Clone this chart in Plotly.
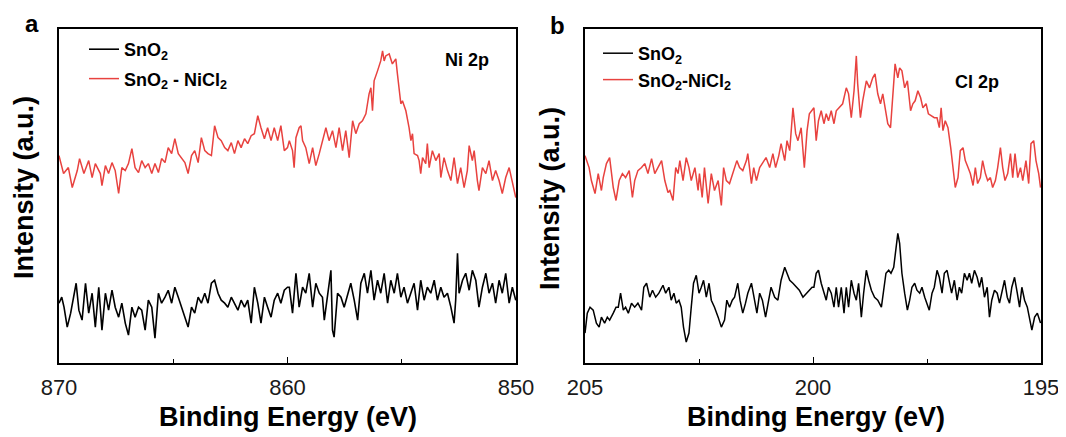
import plotly.graph_objects as go

# ---------------- data ----------------
ni_energy_red = [870.00, 869.80, 869.59, 869.42, 869.20, 869.10, 868.91, 868.70, 868.55, 868.41, 868.19, 868.12,
    867.97, 867.83, 867.68, 867.54, 867.39, 867.25, 867.10, 866.96, 866.81, 866.67, 866.52, 866.38, 866.23, 866.09,
    865.94, 865.80, 865.65, 865.51, 865.36, 865.22, 865.07, 864.93, 864.78, 864.64, 864.49, 864.35, 864.20, 864.06,
    863.91, 863.77, 863.62, 863.48, 863.33, 863.19, 863.04, 862.90, 862.75, 862.61, 862.46, 862.32, 862.17, 862.03,
    861.88, 861.74, 861.59, 861.45, 861.30, 861.16, 861.01, 860.87, 860.72, 860.58, 860.43, 860.29, 860.14, 860.00,
    859.92, 859.78, 859.71, 859.63, 859.49, 859.41, 859.34, 859.20, 859.05, 858.90,
    858.76, 858.61, 858.47, 858.32, 858.18, 858.03, 857.88, 857.74, 857.59, 857.45,
    857.30, 857.15, 857.01, 856.86, 856.72, 856.57, 856.43, 856.35, 856.28, 856.21,
    856.06, 855.92, 855.84, 855.77, 855.70, 855.55, 855.41, 855.26, 855.19, 855.11,
    855.04, 854.97, 854.82, 854.68, 854.60, 854.53, 854.46, 854.31, 854.24, 854.17,
    854.09, 853.95, 853.88, 853.80, 853.66, 853.51, 853.36, 853.29, 853.15, 853.00,
    852.85, 852.71, 852.56, 852.42, 852.27, 852.13, 852.05, 851.91, 851.83, 851.69,
    851.62, 851.47, 851.32, 851.18, 851.03, 850.89, 850.74, 850.60, 850.45, 850.30, 850.16, 850.01]
ni_snO2_nicl2 = [208, 190, 196, 176, 193, 205, 190, 203, 186, 200, 190, 178,
    198, 190, 201, 193, 170, 196, 193, 200, 215, 196, 191, 203, 196, 200, 190, 200, 191, 205, 201, 216, 210, 225,
    210, 206, 201, 190, 208, 213, 201, 226, 213, 210, 208, 238, 226, 223, 216, 213, 221, 210, 223, 216, 225, 220,
    228, 230, 248, 236, 225, 236, 223, 236, 223, 238, 213, 216,
    223, 213, 196, 226, 236, 238, 223, 216, 200, 216,
    198, 210, 223, 236, 223, 233, 216, 236, 213, 233,
    206, 243, 230, 240, 243, 250, 270, 276, 253, 283,
    293, 303, 313, 303, 308, 310, 300, 305, 290, 273,
    260, 263, 253, 236, 223, 230, 210, 208, 203, 190,
    206, 200, 220, 196, 213, 203, 210, 186, 206, 193,
    183, 206, 180, 196, 176, 193, 218, 203, 213, 183,
    173, 196, 190, 203, 183, 193, 183, 170, 186, 196, 180, 166]

ni_energy_black = [870.00, 869.88, 869.78, 869.64, 869.49, 869.35, 869.25, 869.13,
    868.99, 868.84, 868.70, 868.55, 868.41, 868.26, 868.12, 867.97, 867.83, 867.68, 867.54, 867.39, 867.25, 867.10,
    866.96, 866.81, 866.67, 866.52, 866.38, 866.23, 866.09, 865.94, 865.80, 865.65, 865.51, 865.36, 865.22, 865.07,
    864.93, 864.78, 864.64, 864.49, 864.35, 864.20, 864.06, 863.91, 863.77, 863.62, 863.48, 863.33, 863.19, 863.04,
    862.90, 862.75, 862.61, 862.46, 862.32, 862.17, 862.03, 861.88, 861.74, 861.59, 861.45, 861.30, 861.16, 861.01,
    860.87, 860.72, 860.58, 860.43, 860.29, 860.14, 860.00,
    859.92, 859.78, 859.63, 859.49, 859.34, 859.20, 859.05, 858.90, 858.76, 858.61, 858.47, 858.39, 858.25, 858.10,
    858.03, 857.96,
    857.81, 857.66, 857.52, 857.37, 857.23, 857.08, 856.93, 856.79, 856.64, 856.50, 856.35, 856.21, 856.06, 855.92,
    855.77, 855.62, 855.48, 855.33, 855.19, 855.04, 854.90, 854.75, 854.60, 854.46, 854.31, 854.17, 854.02, 853.88,
    853.73, 853.58, 853.44, 853.29, 853.15, 853.00, 852.85,
    852.71, 852.64, 852.56, 852.49,
    852.34, 852.20, 852.05, 851.91, 851.76, 851.62, 851.47, 851.32, 851.18, 851.03, 850.89, 850.74, 850.60, 850.45,
    850.30, 850.16, 850.01]
ni_snO2 = [60, 66, 56, 36, 50, 70, 80, 53,
    43, 80, 50, 70, 36, 76, 33, 70, 53, 73, 56, 46, 60, 40, 28, 56, 46, 56, 53, 33, 63, 56, 25, 70, 60, 66, 73, 60,
    76, 66, 56, 46, 36, 56, 50, 66, 60, 70, 60, 80, 83, 70, 63, 60, 56, 66, 60, 53, 63, 56, 63, 40, 76, 60, 40, 66,
    56, 46, 63, 70, 60, 73, 76,
    76, 50, 90, 56, 76, 70, 90, 56, 80, 70, 66, 43, 70, 93, 33, 26,
    70, 66, 56, 70, 80, 63, 43, 80, 90, 70, 93, 63, 83, 70, 90, 60, 83, 70, 90, 66, 76, 60, 70, 80, 53, 83, 63, 76,
    70, 83, 63, 76, 66, 70, 56,
    40, 63, 110, 70,
    83, 90, 73, 93, 83, 56, 76, 90, 70, 80, 60, 83, 70, 90, 60, 76, 63]

cl_energy_red = [205.00, 204.91, 204.86, 204.78, 204.71, 204.64, 204.60, 204.53, 204.46, 204.38,
    204.32, 204.25, 204.18, 204.11, 204.03, 203.96, 203.91, 203.84, 203.76, 203.69,
    203.62, 203.54, 203.47, 203.40, 203.32, 203.25, 203.18, 203.14, 203.07, 203.01,
    202.96, 202.92, 202.85, 202.78, 202.72, 202.67, 202.59, 202.52, 202.49, 202.43,
    202.38, 202.30, 202.23, 202.16, 202.08, 202.01, 201.96, 201.90, 201.83, 201.76,
    201.67, 201.61, 201.54, 201.46, 201.43, 201.35, 201.30, 201.24, 201.17, 201.10,
    201.03, 200.95, 200.88, 200.82, 200.75, 200.70, 200.62, 200.57, 200.51, 200.44,
    200.38, 200.33, 200.26, 200.19, 200.13, 200.08, 200.02,
    199.98, 199.93, 199.88, 199.82, 199.76, 199.71, 199.66, 199.60, 199.54, 199.49,
    199.42, 199.35, 199.27, 199.22, 199.16, 199.10, 199.05, 199.02, 198.96, 198.91,
    198.83, 198.76, 198.69, 198.64, 198.58, 198.52, 198.47, 198.42, 198.36, 198.30,
    198.25, 198.20, 198.14, 198.10, 198.05, 197.99, 197.93, 197.86, 197.81, 197.76,
    197.70, 197.64, 197.59, 197.52, 197.47, 197.41, 197.34, 197.28, 197.23, 197.19,
    197.15, 197.10, 197.04, 196.98, 196.93, 196.88, 196.82, 196.77, 196.71, 196.66,
    196.60, 196.55, 196.49, 196.44, 196.39, 196.33, 196.28, 196.22, 196.17, 196.11,
    196.06, 196.00, 195.95, 195.89, 195.84, 195.79, 195.73, 195.67, 195.62, 195.57,
    195.51, 195.45, 195.40, 195.33, 195.27, 195.22, 195.16, 195.11, 195.05, 195.01]
cl_snO2_nicl2 = [208, 196, 183, 170, 190, 173, 186, 200, 206, 176,
    163, 183, 190, 186, 193, 166, 183, 193, 196, 200,
    190, 205, 190, 196, 203, 183, 171, 173, 163, 196,
    190, 203, 183, 206, 196, 183, 196, 173, 190, 166,
    196, 160, 190, 173, 183, 158, 196, 183, 180, 190,
    203, 196, 193, 203, 210, 180, 196, 183, 196, 201,
    206, 196, 210, 196, 208, 220, 203, 223, 213, 256,
    230, 223, 236, 196, 233, 250, 253,
    256, 223, 243, 253, 240, 250, 243, 253, 240, 253,
    256, 260, 276, 270, 246, 273, 308, 280, 246, 263,
    283, 276, 286, 290, 270, 260, 270, 256, 240, 236,
    270, 300, 286, 296, 293, 276, 283, 253, 260, 263,
    273, 266, 256, 260, 250, 248, 246, 246, 236, 256,
    233, 243, 236, 216, 196, 176, 186, 213, 216, 203,
    196, 190, 178, 196, 180, 186, 203, 190, 183, 186,
    176, 183, 196, 216, 196, 183, 190, 210, 186, 210,
    186, 196, 183, 203, 180, 220, 223, 203, 190, 176]

cl_energy_black = [205.00, 204.95, 204.89, 204.82, 204.75, 204.69, 204.64, 204.57, 204.51, 204.46,
    204.38, 204.32, 204.27, 204.22, 204.16, 204.11, 204.05, 203.98, 203.91, 203.84,
    203.76, 203.71, 203.65, 203.58, 203.52, 203.45, 203.38, 203.29, 203.23, 203.16,
    203.11, 203.05, 203.00, 202.94, 202.89, 202.84, 202.78, 202.72, 202.67, 202.62,
    202.56, 202.50, 202.45, 202.40, 202.34, 202.28, 202.23, 202.16, 202.08, 202.01,
    201.94, 201.89, 201.83, 201.77, 201.72, 201.65, 201.60, 201.54, 201.48, 201.43,
    201.35, 201.28, 201.23, 201.17, 201.11, 201.04, 200.99, 200.92, 200.84, 200.77,
    200.70, 200.62, 200.57, 200.51, 200.44, 200.37, 200.30, 200.22, 200.15, 200.08,
    200.02,
    199.98, 199.93, 199.88, 199.82, 199.76, 199.71, 199.66, 199.60, 199.54, 199.49,
    199.44, 199.38, 199.32, 199.27, 199.22, 199.16, 199.10, 199.05, 199.00, 198.94,
    198.89, 198.83, 198.78, 198.72, 198.65, 198.58, 198.50, 198.45, 198.40, 198.34,
    198.29, 198.23, 198.18, 198.14, 198.10, 198.05, 197.99, 197.93, 197.88, 197.83,
    197.77, 197.72, 197.66, 197.61, 197.55, 197.50, 197.45, 197.39, 197.34, 197.28,
    197.23, 197.17, 197.12, 197.06, 197.01, 196.96, 196.90, 196.84, 196.79, 196.74,
    196.68, 196.62, 196.57, 196.52, 196.46, 196.40, 196.35, 196.30, 196.24, 196.18,
    196.13, 196.08, 196.02, 195.96, 195.91, 195.86, 195.80, 195.74, 195.69, 195.64,
    195.58, 195.52, 195.47, 195.42, 195.36, 195.30, 195.25, 195.20, 195.14, 195.08,
    195.01]
cl_snO2 = [30, 50, 56, 53, 40, 36, 46, 40, 46, 43,
    50, 56, 56, 70, 53, 56, 50, 60, 56, 60,
    53, 76, 80, 66, 73, 66, 70, 78, 70, 76,
    63, 70, 60, 63, 56, 36, 21, 30, 56, 80,
    88, 70, 76, 83, 66, 80, 63, 56, 46, 36,
    43, 63, 56, 63, 66, 80, 63, 50, 60, 70,
    80, 63, 50, 70, 63, 46, 60, 76, 66, 63,
    83, 96, 90, 83, 80, 76, 73, 66, 70, 73,
    76,
    76, 90, 93, 80, 70, 63, 76, 70, 56, 76,
    56, 76, 50, 76, 56, 83, 70, 63, 80, 46,
    70, 93, 83, 73, 66, 63, 56, 76, 90, 93,
    90, 96, 116, 130, 120, 90, 70, 53, 63, 76,
    80, 73, 70, 76, 66, 60, 53, 70, 76, 93,
    86, 70, 90, 93, 80, 70, 83, 63, 76, 70,
    90, 83, 90, 80, 93, 86, 76, 86, 66, 76,
    46, 63, 73, 70, 60, 70, 83, 66, 60, 76,
    86, 70, 56, 76, 63, 56, 43, 33, 46, 50,
    40]

panel_a_ticks = [870, 860, 850]
panel_b_ticks = [205, 200, 195]
names_a = ["SnO<sub>2</sub>", "SnO<sub>2</sub> - NiCl<sub>2</sub>"]
names_b = ["SnO<sub>2</sub>", "SnO<sub>2</sub>-NiCl<sub>2</sub>"]

# ---------------- figure ----------------
W, H = 1066, 437
OFF = 8  # page body margin offset of the figure in the window
BLACK = "#000000"
RED = "#E8423F"
FONT = "Liberation Sans, Arial, sans-serif"

def px(x):
    return (x - OFF) / W

def py(y):
    return 1 - (y - OFF) / H

fig = go.Figure()
fig.add_trace(go.Scatter(x=ni_energy_black, y=ni_snO2, mode="lines", name=names_a[0],
                         line=dict(color=BLACK, width=1.6), xaxis="x", yaxis="y",
                         legend="legend", legendgroup="a1"))
fig.add_trace(go.Scatter(x=ni_energy_red, y=ni_snO2_nicl2, mode="lines", name=names_a[1],
                         line=dict(color=RED, width=1.5), xaxis="x", yaxis="y",
                         legend="legend", legendgroup="a2"))
fig.add_trace(go.Scatter(x=cl_energy_black, y=cl_snO2, mode="lines", name=names_b[0],
                         line=dict(color=BLACK, width=1.5), xaxis="x2", yaxis="y2",
                         legend="legend2", legendgroup="b1"))
fig.add_trace(go.Scatter(x=cl_energy_red, y=cl_snO2_nicl2, mode="lines", name=names_b[1],
                         line=dict(color=RED, width=1.5), xaxis="x2", yaxis="y2",
                         legend="legend2", legendgroup="b2"))

xa_common = dict(showline=True, linecolor=BLACK, linewidth=1.6, mirror=True,
                 ticks="inside", ticklen=6, tickwidth=1.4, tickcolor=BLACK,
                 showgrid=False, zeroline=False, automargin=False,
                 tickfont=dict(family=FONT, size=22, color="#1a1a1a"),
                 ticklabelstandoff=4)
ya_common = dict(showline=True, linecolor=BLACK, linewidth=1.6, mirror=True,
                 ticks="", showticklabels=False, showgrid=False, zeroline=False,
                 automargin=False, range=[0, 335])

fig.update_layout(
    width=W, height=H, margin=dict(l=0, r=0, t=0, b=0, pad=0, autoexpand=False),
    paper_bgcolor="white", plot_bgcolor="white",
    xaxis=dict(domain=[px(59), px(516)], range=[870, 850], tickvals=panel_a_ticks,
               minor=dict(tickvals=[865, 855], ticks="inside", ticklen=4, tickwidth=1.2, tickcolor=BLACK),
               anchor="y", **xa_common),
    yaxis=dict(domain=[py(363), py(29)], anchor="x", **ya_common),
    xaxis2=dict(domain=[px(585), px(1041)], range=[205, 195], tickvals=panel_b_ticks,
                minor=dict(tickvals=[202.5, 197.5], ticks="inside", ticklen=4, tickwidth=1.2, tickcolor=BLACK),
                anchor="y2", **xa_common),
    yaxis2=dict(domain=[py(363), py(29)], anchor="x2", **ya_common),
    legend=dict(x=px(84), y=py(31), xanchor="left", yanchor="top", bgcolor="rgba(0,0,0,0)",
                font=dict(family=FONT, size=18, color=BLACK, weight="bold"),
                traceorder="grouped", tracegroupgap=3, itemwidth=30),
    legend2=dict(x=px(598), y=py(35), xanchor="left", yanchor="top", bgcolor="rgba(0,0,0,0)",
                 font=dict(family=FONT, size=18, color=BLACK, weight="bold"),
                 traceorder="grouped", tracegroupgap=0, itemwidth=30),
    showlegend=True,
)

ann = []
def add_text(text, x, y, size, angle=0):
    ann.append(dict(text=text, x=px(x), y=py(y), xref="paper", yref="paper", showarrow=False,
                    xanchor="center", yanchor="middle", textangle=angle,
                    font=dict(family=FONT, size=size, color=BLACK, weight="bold")))

add_text("a", 32, 23, 24)
add_text("b", 557, 26, 24)
add_text("Ni 2p", 467, 60, 18)
add_text("Cl 2p", 977, 82, 18)
add_text("Binding Energy (eV)", 288, 417, 27)
add_text("Binding Energy (eV)", 816, 417, 27)
add_text("Intensity (a.u.)", 24, 188, 27, -90)
add_text("Intensity (a.u.)", 550, 199, 27, -90)
fig.update_layout(annotations=ann)

fig.write_html("out.html")
